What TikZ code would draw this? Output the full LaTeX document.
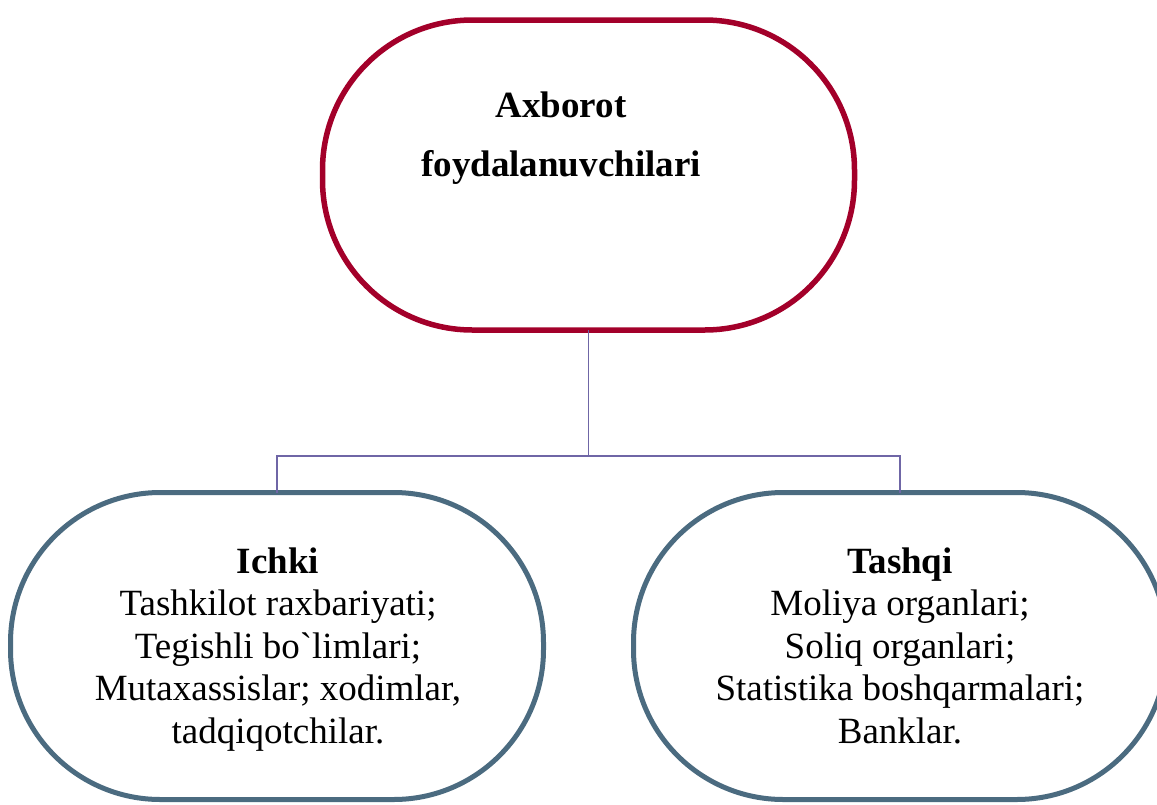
\documentclass[tikz,border=0pt]{standalone}
\usepackage{fontspec}
\setmainfont{Liberation Serif}
\definecolor{topred}{HTML}{A3002A}
\definecolor{slate}{HTML}{4B6B80}
\definecolor{conncol}{HTML}{6F66A6}
\tikzset{
  pill/.style={draw, line width=5.5pt, rounded corners=150pt, fill=white, inner sep=0pt, outer sep=0pt},
  toppill/.style={pill, draw=topred, minimum width=532pt, minimum height=310pt},
  lowpill/.style={pill, draw=slate, line width=5pt, minimum width=533pt, minimum height=307pt},
  conn/.style={draw=conncol, line width=1.6pt},
  toptext/.style={font=\fontsize{37}{59}\selectfont\bfseries, align=center, anchor=base, inner sep=0pt},
  lowtext/.style={font=\fontsize{37}{42.5}\selectfont, align=center, anchor=base, inner sep=0pt}
}
\begin{document}
\begin{tikzpicture}[x=1pt,y=-1pt]
\useasboundingbox (0,0) rectangle (1157,804);
\node[toppill] (top) at (588.5,175) {};
\node[lowpill] (left) at (277,646) {};
\node[lowpill] (right) at (900,646) {};
\coordinate (j) at (588.5,456);
\draw[conn] (top.south) -- (j);
\draw[conn] (j) -| (left.north);
\draw[conn] (j) -| (right.north);
\node[toptext] (toplabel) at (561,176) {Axborot\\foydalanuvchilari};
\node[lowtext] (leftlabel) at (278,743) {\textbf{Ichki}\\Tashkilot raxbariyati;\\Tegishli bo\textasciigrave limlari;\\Mutaxassislar; xodimlar,\\tadqiqotchilar.};
\node[lowtext] (rightlabel) at (900,743) {\textbf{Tashqi}\\Moliya organlari;\\Soliq organlari;\\Statistika boshqarmalari;\\Banklar.};
\end{tikzpicture}
\end{document}
